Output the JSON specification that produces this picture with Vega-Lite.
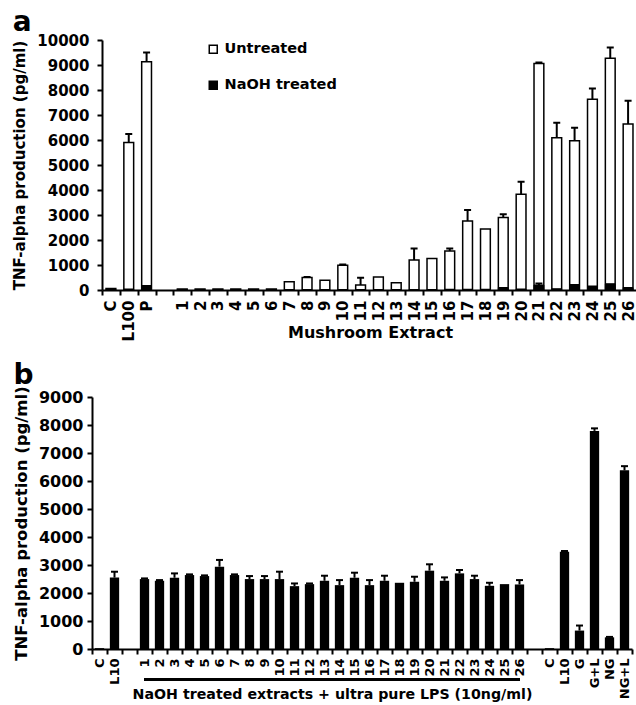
{
  "$schema": "https://vega.github.io/schema/vega-lite/v6.json",
  "padding": {"left": 12, "top": 9, "right": 0, "bottom": 0},
  "spacing": 20,
  "config": {
    "view": {"stroke": null},
    "font": "DejaVu Sans",
    "axis": {"domainColor": "black", "domainWidth": 2, "tickColor": "black", "tickWidth": 2, "tickSize": 5, "labelFont": "DejaVu Sans", "labelFontWeight": "bold", "labelColor": "black", "titleFont": "DejaVu Sans", "titleFontWeight": "bold", "titleColor": "black", "grid": false, "labelOverlap": false},
    "title": {"font": "DejaVu Sans", "fontWeight": "bold", "color": "black", "anchor": "start", "frame": "bounds"}
  },
  "datasets": {
    "a": [
      {"cat": "C", "grp": "Untreated", "v": 60, "hi": null},
      {"cat": "L100", "grp": "Untreated", "v": 5900, "hi": 6240},
      {"cat": "P", "grp": "Untreated", "v": 9130, "hi": 9500},
      {"cat": "1", "grp": "Untreated", "v": 40, "hi": null},
      {"cat": "2", "grp": "Untreated", "v": 40, "hi": null},
      {"cat": "3", "grp": "Untreated", "v": 40, "hi": null},
      {"cat": "4", "grp": "Untreated", "v": 40, "hi": null},
      {"cat": "5", "grp": "Untreated", "v": 40, "hi": null},
      {"cat": "6", "grp": "Untreated", "v": 40, "hi": null},
      {"cat": "7", "grp": "Untreated", "v": 330, "hi": null},
      {"cat": "8", "grp": "Untreated", "v": 500, "hi": 520},
      {"cat": "9", "grp": "Untreated", "v": 390, "hi": null},
      {"cat": "10", "grp": "Untreated", "v": 990, "hi": 1020},
      {"cat": "11", "grp": "Untreated", "v": 200, "hi": 490},
      {"cat": "12", "grp": "Untreated", "v": 520, "hi": null},
      {"cat": "13", "grp": "Untreated", "v": 290, "hi": null},
      {"cat": "14", "grp": "Untreated", "v": 1200, "hi": 1660},
      {"cat": "15", "grp": "Untreated", "v": 1260, "hi": null},
      {"cat": "16", "grp": "Untreated", "v": 1560, "hi": 1660},
      {"cat": "17", "grp": "Untreated", "v": 2760, "hi": 3200},
      {"cat": "18", "grp": "Untreated", "v": 2440, "hi": null},
      {"cat": "19", "grp": "Untreated", "v": 2900, "hi": 3030},
      {"cat": "20", "grp": "Untreated", "v": 3830, "hi": 4330},
      {"cat": "21", "grp": "Untreated", "v": 9060, "hi": 9100},
      {"cat": "22", "grp": "Untreated", "v": 6090, "hi": 6690},
      {"cat": "23", "grp": "Untreated", "v": 5970, "hi": 6490},
      {"cat": "24", "grp": "Untreated", "v": 7630, "hi": 8060},
      {"cat": "25", "grp": "Untreated", "v": 9270, "hi": 9700},
      {"cat": "26", "grp": "Untreated", "v": 6640, "hi": 7570},
      {"cat": "C", "grp": "NaOH treated", "v": 20, "hi": null},
      {"cat": "L100", "grp": "NaOH treated", "v": 40, "hi": null},
      {"cat": "P", "grp": "NaOH treated", "v": 180, "hi": null},
      {"cat": "1", "grp": "NaOH treated", "v": 20, "hi": null},
      {"cat": "2", "grp": "NaOH treated", "v": 20, "hi": null},
      {"cat": "3", "grp": "NaOH treated", "v": 20, "hi": null},
      {"cat": "4", "grp": "NaOH treated", "v": 20, "hi": null},
      {"cat": "5", "grp": "NaOH treated", "v": 20, "hi": null},
      {"cat": "6", "grp": "NaOH treated", "v": 20, "hi": null},
      {"cat": "7", "grp": "NaOH treated", "v": 20, "hi": null},
      {"cat": "8", "grp": "NaOH treated", "v": 20, "hi": null},
      {"cat": "9", "grp": "NaOH treated", "v": 20, "hi": null},
      {"cat": "10", "grp": "NaOH treated", "v": 20, "hi": null},
      {"cat": "11", "grp": "NaOH treated", "v": 20, "hi": null},
      {"cat": "12", "grp": "NaOH treated", "v": 20, "hi": null},
      {"cat": "13", "grp": "NaOH treated", "v": 20, "hi": null},
      {"cat": "14", "grp": "NaOH treated", "v": 20, "hi": null},
      {"cat": "15", "grp": "NaOH treated", "v": 20, "hi": null},
      {"cat": "16", "grp": "NaOH treated", "v": 30, "hi": null},
      {"cat": "17", "grp": "NaOH treated", "v": 30, "hi": null},
      {"cat": "18", "grp": "NaOH treated", "v": 30, "hi": null},
      {"cat": "19", "grp": "NaOH treated", "v": 100, "hi": null},
      {"cat": "20", "grp": "NaOH treated", "v": 40, "hi": null},
      {"cat": "21", "grp": "NaOH treated", "v": 200, "hi": 260},
      {"cat": "22", "grp": "NaOH treated", "v": 50, "hi": null},
      {"cat": "23", "grp": "NaOH treated", "v": 220, "hi": null},
      {"cat": "24", "grp": "NaOH treated", "v": 160, "hi": null},
      {"cat": "25", "grp": "NaOH treated", "v": 250, "hi": null},
      {"cat": "26", "grp": "NaOH treated", "v": 100, "hi": null}
    ],
    "b": [
      {"cat": "C_1", "v": 30, "hi": null},
      {"cat": "L10_1", "v": 2550, "hi": 2760},
      {"cat": "1", "v": 2497, "hi": 2521},
      {"cat": "2", "v": 2437, "hi": 2461},
      {"cat": "3", "v": 2545, "hi": 2700},
      {"cat": "4", "v": 2641, "hi": 2665},
      {"cat": "5", "v": 2605, "hi": 2629},
      {"cat": "6", "v": 2941, "hi": 3181},
      {"cat": "7", "v": 2641, "hi": 2665},
      {"cat": "8", "v": 2497, "hi": 2605},
      {"cat": "9", "v": 2497, "hi": 2605},
      {"cat": "10", "v": 2497, "hi": 2761},
      {"cat": "11", "v": 2245, "hi": 2341},
      {"cat": "12", "v": 2317, "hi": 2341},
      {"cat": "13", "v": 2437, "hi": 2617},
      {"cat": "14", "v": 2281, "hi": 2461},
      {"cat": "15", "v": 2545, "hi": 2725},
      {"cat": "16", "v": 2281, "hi": 2461},
      {"cat": "17", "v": 2437, "hi": 2617},
      {"cat": "18", "v": 2365, "hi": null},
      {"cat": "19", "v": 2401, "hi": 2581},
      {"cat": "20", "v": 2797, "hi": 3025},
      {"cat": "21", "v": 2437, "hi": 2557},
      {"cat": "22", "v": 2701, "hi": 2821},
      {"cat": "23", "v": 2497, "hi": 2617},
      {"cat": "24", "v": 2257, "hi": 2365},
      {"cat": "25", "v": 2317, "hi": null},
      {"cat": "26", "v": 2305, "hi": 2461},
      {"cat": "C_2", "v": 30, "hi": null},
      {"cat": "L10_2", "v": 3475, "hi": 3500},
      {"cat": "G", "v": 658, "hi": 838},
      {"cat": "G+L", "v": 7790, "hi": 7880},
      {"cat": "NG", "v": 417, "hi": 432},
      {"cat": "NG+L", "v": 6380, "hi": 6530}
    ]
  },
  "vconcat": [
    {
      "width": 545,
      "height": 250,
      "title": {"text": "a", "fontSize": 28, "offset": -4},
      "data": {"name": "a"},
      "encoding": {
        "x": {
          "field": "cat", "type": "nominal",
          "scale": {"domain": ["C", "L100", "P", "gap", "1", "2", "3", "4", "5", "6", "7", "8", "9", "10", "11", "12", "13", "14", "15", "16", "17", "18", "19", "20", "21", "22", "23", "24", "25", "26"], "paddingInner": 0, "paddingOuter": 0, "range": [10, 545]},
          "axis": {"title": "Mushroom Extract", "labelAngle": 270, "tickBand": "extent", "labelFontSize": 15, "titleFontSize": 16, "labelPadding": 5, "titleY": 34, "titleX": 278, "titleAlign": "center", "labelExpr": "datum.label == 'gap' ? '' : datum.label"}
        }
      },
      "layer": [
        {
          "transform": [{"filter": "datum.grp == 'Untreated'"}],
          "mark": {"type": "bar", "stroke": "black", "strokeWidth": 1.5, "width": {"band": 0.55}},
          "encoding": {
            "y": {"field": "v", "type": "quantitative", "stack": null, "scale": {"domain": [0, 10000], "nice": false}, "axis": {"title": "TNF-alpha production (pg/ml)", "offset": -10, "values": [0, 1000, 2000, 3000, 4000, 5000, 6000, 7000, 8000, 9000, 10000], "labelOverlap": false, "format": "d", "labelFontSize": 15, "titleFontSize": 15, "titlePadding": 9, "labelPadding": 8}},
            "color": {"field": "grp", "type": "nominal", "scale": {"domain": ["Untreated", "NaOH treated"], "range": ["white", "black"]}, "legend": {"orient": "none", "legendX": 114, "legendY": 2, "title": null, "symbolType": "square", "symbolSize": 64, "symbolStrokeColor": "black", "symbolStrokeWidth": 1.5, "labelFontSize": 14.5, "labelFont": "DejaVu Sans", "labelFontWeight": "bold", "labelColor": "black", "rowPadding": 20, "labelOffset": 4}}
          }
        },
        {
          "transform": [{"filter": "isValid(datum.hi)"}],
          "mark": {"type": "rule", "color": "black", "strokeWidth": 2},
          "encoding": {"y": {"field": "v", "type": "quantitative", "axis": {"title": "TNF-alpha production (pg/ml)", "offset": -10, "values": [0, 1000, 2000, 3000, 4000, 5000, 6000, 7000, 8000, 9000, 10000], "labelOverlap": false, "format": "d", "labelFontSize": 15, "titleFontSize": 15, "titlePadding": 9, "labelPadding": 8}}, "y2": {"field": "hi"}}
        },
        {
          "transform": [{"filter": "isValid(datum.hi)"}],
          "mark": {"type": "tick", "color": "black", "size": 7, "thickness": 2, "opacity": 1},
          "encoding": {"y": {"field": "hi", "type": "quantitative", "axis": {"title": "TNF-alpha production (pg/ml)", "offset": -10, "values": [0, 1000, 2000, 3000, 4000, 5000, 6000, 7000, 8000, 9000, 10000], "labelOverlap": false, "format": "d", "labelFontSize": 15, "titleFontSize": 15, "titlePadding": 9, "labelPadding": 8}}}
        },
        {
          "transform": [{"filter": "datum.grp == 'NaOH treated'"}],
          "mark": {"type": "bar", "stroke": "black", "strokeWidth": 1, "width": {"band": 0.55}},
          "encoding": {
            "y": {"field": "v", "type": "quantitative", "stack": null, "axis": {"title": "TNF-alpha production (pg/ml)", "offset": -10, "values": [0, 1000, 2000, 3000, 4000, 5000, 6000, 7000, 8000, 9000, 10000], "labelOverlap": false, "format": "d", "labelFontSize": 15, "titleFontSize": 15, "titlePadding": 9, "labelPadding": 8}},
            "color": {"field": "grp", "type": "nominal"}
          }
        }
      ]
    },
    {
      "width": 540,
      "height": 252,
      "title": {"text": "b", "fontSize": 28, "offset": -4},
      "data": {"name": "b"},
      "encoding": {
        "x": {
          "field": "cat", "type": "nominal",
          "scale": {"domain": ["C_1", "L10_1", "gap1", "1", "2", "3", "4", "5", "6", "7", "8", "9", "10", "11", "12", "13", "14", "15", "16", "17", "18", "19", "20", "21", "22", "23", "24", "25", "26", "gap2", "C_2", "L10_2", "G", "G+L", "NG", "NG+L"], "paddingInner": 0, "paddingOuter": 0},
          "axis": {"title": "NaOH treated extracts + ultra pure LPS (10ng/ml)", "labelAngle": 270, "tickBand": "extent", "labelFontSize": 13, "titleFontSize": 14.2, "labelPadding": 4, "titleY": 38, "titleX": 240, "titleAlign": "center", "labelExpr": "indexof(datum.label, 'gap') == 0 ? '' : split(datum.label, '_')[0]"}
        }
      },
      "layer": [
        {
          "mark": {"type": "bar", "color": "black", "width": {"band": 0.62}},
          "encoding": {
            "y": {"field": "v", "type": "quantitative", "scale": {"domain": [0, 9000], "nice": false}, "axis": {"title": "TNF-alpha production (pg/ml)", "values": [0, 1000, 2000, 3000, 4000, 5000, 6000, 7000, 8000, 9000], "labelOverlap": false, "format": "d", "labelFontSize": 16, "titleFontSize": 16.5, "titlePadding": 9, "labelPadding": 4}}
          }
        },
        {
          "transform": [{"filter": "isValid(datum.hi)"}],
          "mark": {"type": "rule", "color": "black", "strokeWidth": 2},
          "encoding": {"y": {"field": "v", "type": "quantitative", "axis": {"title": "TNF-alpha production (pg/ml)", "values": [0, 1000, 2000, 3000, 4000, 5000, 6000, 7000, 8000, 9000], "labelOverlap": false, "format": "d", "labelFontSize": 16, "titleFontSize": 16.5, "titlePadding": 9, "labelPadding": 4}}, "y2": {"field": "hi"}}
        },
        {
          "transform": [{"filter": "isValid(datum.hi)"}],
          "mark": {"type": "tick", "color": "black", "size": 7, "thickness": 2, "opacity": 1},
          "encoding": {"y": {"field": "hi", "type": "quantitative", "axis": {"title": "TNF-alpha production (pg/ml)", "values": [0, 1000, 2000, 3000, 4000, 5000, 6000, 7000, 8000, 9000], "labelOverlap": false, "format": "d", "labelFontSize": 16, "titleFontSize": 16.5, "titlePadding": 9, "labelPadding": 4}}}
        },
        {
          "mark": {"type": "rule", "color": "black", "strokeWidth": 2, "clip": false},
          "encoding": {"x": {"datum": "1"}, "x2": {"datum": "26"}, "y": {"datum": -1100, "type": "quantitative", "axis": {"title": "TNF-alpha production (pg/ml)", "values": [0, 1000, 2000, 3000, 4000, 5000, 6000, 7000, 8000, 9000], "labelOverlap": false, "format": "d", "labelFontSize": 16, "titleFontSize": 16.5, "titlePadding": 9, "labelPadding": 4}}}
        }
      ]
    }
  ]
}
